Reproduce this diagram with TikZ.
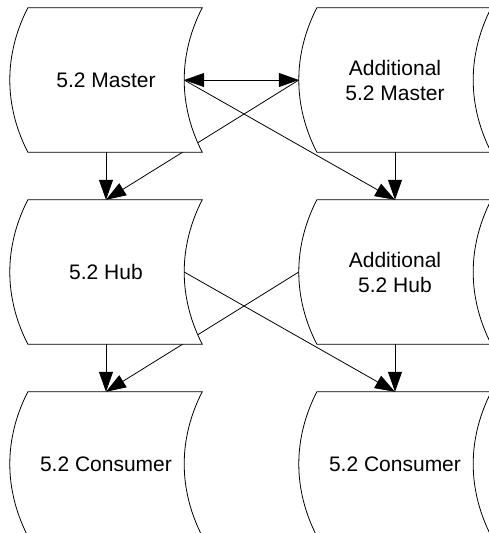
\documentclass[tikz,border=0pt]{standalone}
\usepackage{fontspec}
\setmainfont{Liberation Sans}
\usetikzlibrary{arrows.meta,calc}

% connectors sit below the shapes, text on top
\pgfdeclarelayer{links}
\pgfdeclarelayer{shapes}
\pgfsetlayers{links,shapes,main}

\tikzset{
  store/.style={minimum width=192pt, minimum height=144pt, inner sep=0pt,
    align=center, font=\fontsize{21}{25}\selectfont},
  tip/.tip={Triangle[length=20pt,width=14pt]},
  link/.style={line width=0.8pt, -tip},
  outline/.style={line width=0.8pt, draw=black, fill=white}
}

% stored-data outline: convex left side, concave right side
\newcommand\storedata[1]{%
  \begin{pgfonlayer}{shapes}
    \path[outline] ($(#1.north west)+(18,0)$) -- (#1.north east)
      .. controls ($(#1.north east)+(-24,47)$) and ($(#1.south east)+(-24,-47)$) .. (#1.south east)
      -- ($(#1.south west)+(18,0)$)
      .. controls ($(#1.south west)+(-6,-47)$) and ($(#1.north west)+(-6,47)$) .. cycle;
  \end{pgfonlayer}}

\begin{document}
\begin{tikzpicture}[x=1pt,y=-1pt]
  \useasboundingbox (0,0) rectangle (488,533);

  \node[store] (mst)  at (106,80)  {5.2 Master};
  \node[store] (amst) at (395,80)  {Additional\\5.2 Master};
  \node[store] (hub)  at (106,272) {5.2 Hub};
  \node[store] (ahub) at (395,272) {Additional\\5.2 Hub};
  \node[store] (con1) at (106,464) {5.2 Consumer};
  \node[store] (con2) at (395,464) {5.2 Consumer};

  \foreach \n in {mst,amst,hub,ahub,con1,con2} {\storedata{\n}}

  \begin{pgfonlayer}{links}
    \draw[link, tip-tip] ([xshift=-18pt]mst.east) -- (amst.west);
    \draw[link] (mst.south) -- (hub.north);
    \draw[link] ([xshift=-18pt]mst.east) -- (ahub.north);
    \draw[link] (amst.west) -- (hub.north);
    \draw[link] (amst.south) -- (ahub.north);
    \draw[link] (hub.south) -- (con1.north);
    \draw[link] ([xshift=-18pt]hub.east) -- (con2.north);
    \draw[link] (ahub.west) -- (con1.north);
    \draw[link] (ahub.south) -- (con2.north);
  \end{pgfonlayer}
\end{tikzpicture}
\end{document}
